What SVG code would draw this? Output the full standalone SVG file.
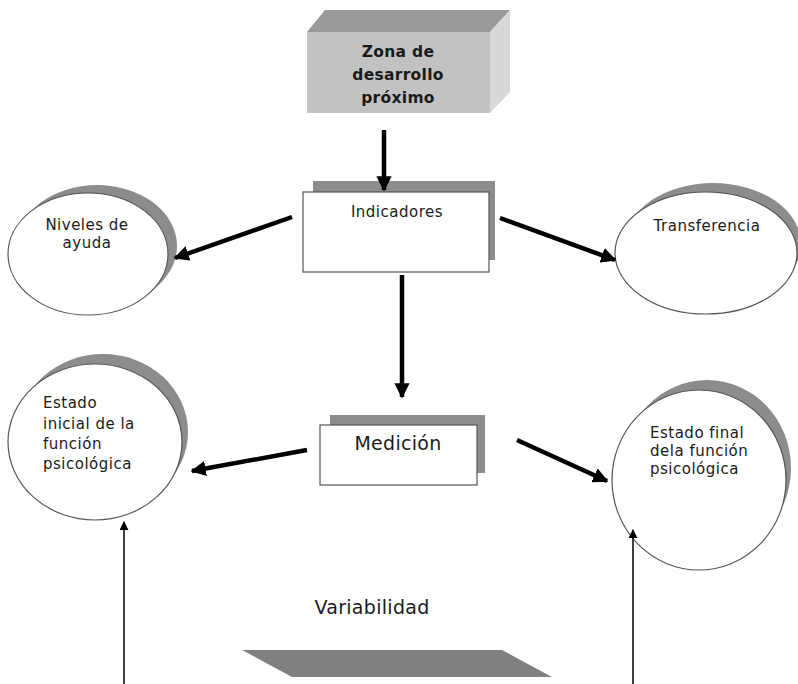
<svg xmlns="http://www.w3.org/2000/svg" width="798" height="684" viewBox="0 0 798 684">
<style>
.t{font-family:"DejaVu Sans","Liberation Sans",sans-serif;fill:#1a1a1a}
.b{font-weight:bold;font-size:15.5px;letter-spacing:0.3px}
.s{font-size:15px;letter-spacing:0.5px}
.m{font-size:19px;letter-spacing:0.3px}
.sh{fill:#8c8c8c}
.wf{fill:#fff;stroke:#555;stroke-width:1.2}
.thick{stroke:#000;stroke-width:4.5;fill:none}
.thin{stroke:#000;stroke-width:1.5;fill:none}
</style>
<defs>
<marker id="ah" viewBox="0 0 10 10" refX="9" refY="5" markerWidth="3.4" markerHeight="3.4" orient="auto" markerUnits="strokeWidth">
<path d="M0,0 L10,5 L0,10 z" fill="#000"/>
</marker>
<marker id="ahs" viewBox="0 0 10 10" refX="9" refY="5" markerWidth="6" markerHeight="6" orient="auto" markerUnits="strokeWidth">
<path d="M0,0 L10,5 L0,10 z" fill="#000"/>
</marker>
</defs>
<rect width="798" height="684" fill="#fff"/>

<g id="zona">
<polygon points="307,32 325,10 510,10 490,32" fill="#9a9a9a"/>
<polygon points="490,32 510,10 510,92 490,113" fill="#d8d8d8"/>
<rect x="307" y="32" width="183" height="81" fill="#c2c2c2"/>
<text class="t b" text-anchor="middle" x="398" y="57">Zona de</text>
<text class="t b" text-anchor="middle" x="398" y="80">desarrollo</text>
<text class="t b" text-anchor="middle" x="398" y="103">próximo</text>
</g>

<g id="indicadores">
<rect x="313" y="181" width="182" height="79" class="sh"/>
<rect x="303" y="192" width="186" height="80" class="wf"/>
<text class="t s" text-anchor="middle" x="397" y="217">Indicadores</text>
</g>

<g id="niveles">
<ellipse cx="97" cy="246" rx="80" ry="61" class="sh"/>
<ellipse cx="88" cy="254" rx="80" ry="61" class="wf"/>
<text class="t s" text-anchor="middle" x="87" y="230">Niveles de</text>
<text class="t s" text-anchor="middle" x="87" y="248">ayuda</text>
</g>

<g id="transferencia">
<ellipse cx="713" cy="244" rx="88" ry="61" class="sh"/>
<ellipse cx="706" cy="253" rx="91" ry="61" class="wf"/>
<text class="t s" text-anchor="middle" x="707" y="231">Transferencia</text>
</g>

<g id="medicion">
<rect x="330" y="415" width="155" height="58" class="sh"/>
<rect x="320" y="425" width="157" height="60" class="wf"/>
<text class="t m" text-anchor="middle" x="398" y="450">Medición</text>
</g>

<g id="estado-inicial">
<ellipse cx="103" cy="432" rx="85" ry="78" class="sh"/>
<ellipse cx="95" cy="442" rx="87" ry="78" class="wf"/>
<text class="t s" x="43" y="408">Estado</text>
<text class="t s" x="43" y="429">inicial de la</text>
<text class="t s" x="43" y="449">función</text>
<text class="t s" x="43" y="469">psicológica</text>
</g>

<g id="estado-final">
<ellipse cx="707" cy="468" rx="84" ry="88" class="sh"/>
<ellipse cx="699" cy="480" rx="87" ry="90" class="wf"/>
<text class="t s" x="650" y="438">Estado final</text>
<text class="t s" x="650" y="456">dela función</text>
<text class="t s" x="650" y="474">psicológica</text>
</g>

<g id="variabilidad">
<text class="t m" text-anchor="middle" x="372" y="614">Variabilidad</text>
<polygon points="242,650 502,650 552,677 292,677" fill="#808080"/>
</g>

<g id="connectors">
<line x1="384" y1="130" x2="384" y2="190" class="thick" marker-end="url(#ah)"/>
<line x1="292" y1="217" x2="175" y2="258" class="thick" marker-end="url(#ah)"/>
<line x1="500" y1="218" x2="615" y2="260" class="thick" marker-end="url(#ah)"/>
<line x1="402" y1="275" x2="402" y2="397" class="thick" marker-end="url(#ah)"/>
<line x1="307" y1="450" x2="192" y2="471" class="thick" marker-end="url(#ah)"/>
<line x1="517" y1="440" x2="607" y2="481" class="thick" marker-end="url(#ah)"/>
<line x1="124" y1="684" x2="124" y2="522" class="thin" marker-end="url(#ahs)"/>
<line x1="633" y1="684" x2="633" y2="530" class="thin" marker-end="url(#ahs)"/>
</g>
</svg>
